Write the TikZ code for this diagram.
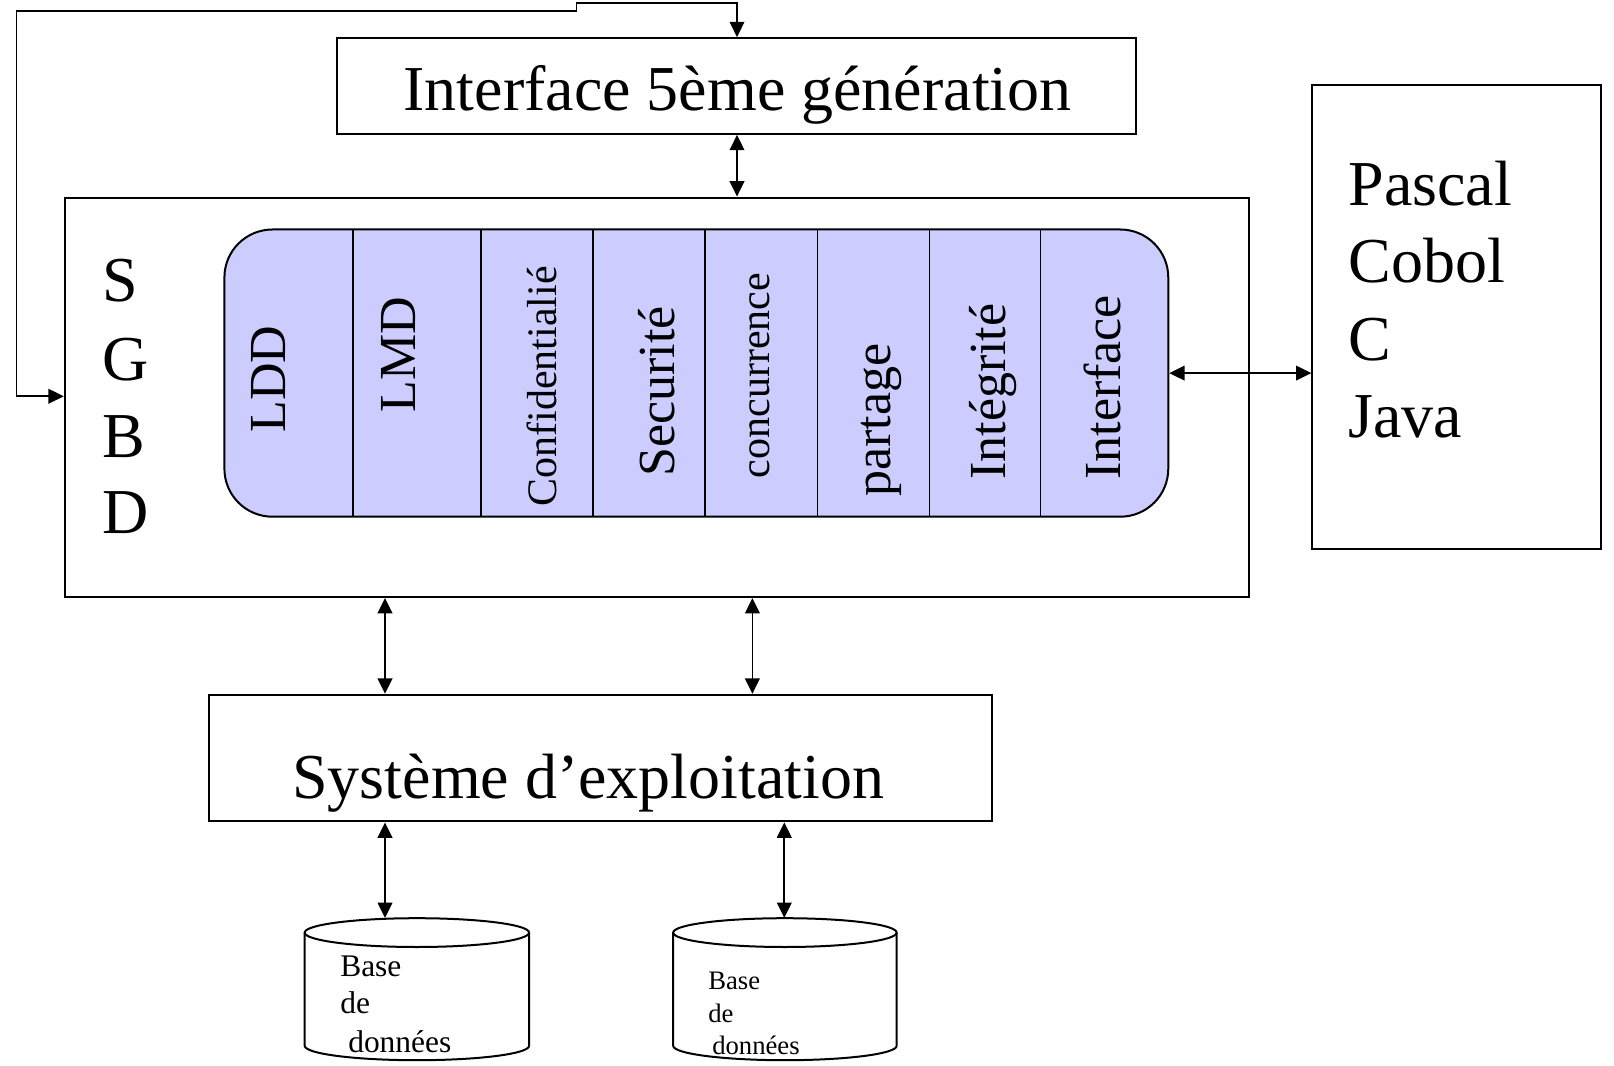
\documentclass[tikz,border=0pt]{standalone}
\usepackage{fontspec}
\setmainfont{Liberation Serif}
\usetikzlibrary{arrows.meta}
\definecolor{corefill}{RGB}{204,204,255}
\begin{document}
\begin{tikzpicture}[x=0.75pt,y=-0.75pt,
  box/.style={draw, line width=1.5pt, inner sep=0, rectangle},
  dbl/.style={line width=1.3pt, {Triangle[length=11.5pt,width=11pt]}-{Triangle[length=11.5pt,width=11pt]}},
  big/.style={font=\fontsize{48}{58}\selectfont, inner sep=0},
  vlab/.style={rotate=90, anchor=base west, inner sep=0, font=\fontsize{39}{47}\selectfont},
  vsmall/.style={rotate=90, anchor=base west, inner sep=0, font=\fontsize{31.5}{38}\selectfont},
  dbA/.style={anchor=base west, inner sep=0, font=\fontsize{23.6}{28}\selectfont},
  dbB/.style={anchor=base west, inner sep=0, font=\fontsize{20}{24}\selectfont},
  divider/.style={line width=1.2pt},
  cyl/.style={line width=1.5pt}
  ]
\useasboundingbox (0,0) rectangle (1614,1066);

% boxes
\node[box, minimum width=599.9pt, minimum height=71.8pt] (i5) at (736.5,86) {};
\node[big, anchor=base] (i5t) at (737.5,111) {Interface 5ème génération};

\node[box, minimum width=887.9pt, minimum height=299.6pt] (sgbd) at (656.7,397.3) {};
\node[draw, line width=1.5pt, fill=corefill, rounded corners=36pt, minimum width=707.9pt, minimum height=215.4pt, inner sep=0] (core) at (696.35,373.1) {};
\foreach \x in {353.1,480.7,592.9,705.1,817.3,929.5,1040.6}
  \draw[divider] (\x,229.5) -- (\x,516.7);

\node[box, minimum width=216.2pt, minimum height=347.4pt] (lang) at (1456.5,317) {};
\node[box, minimum width=587.5pt, minimum height=95pt] (os) at (600.6,758.1) {};
\node[big, anchor=base] (ost) at (588.3,798.8) {Système d’exploitation};

% SGBD letters
\node[big, anchor=base west] (ls) at (102.5,301.6) {S};
\node[big, anchor=base west] (lg) at (102.5,380.8) {G};
\node[big, anchor=base west] (lb) at (102.5,457) {B};
\node[big, anchor=base west] (ld) at (102.5,533.2) {D};

% languages
\node[big, anchor=base west] (lp) at (1348.4,205.9) {Pascal};
\node[big, anchor=base west] (lc) at (1348.4,283) {Cobol};
\node[big, anchor=base west] (lcc) at (1348.4,360.3) {C};
\node[big, anchor=base west] (lj) at (1348.4,437.5) {Java};

% rotated labels
\node[vlab] (t1) at (285,433) {LDD};
\node[vlab] (t2) at (415.8,413) {LMD};
\node[vsmall] (t3) at (556,506.7) {Confidentialié};
\node[vlab] (t4) at (674,476.7) {Securité};
\node[vsmall] (t5) at (769.7,478.3) {concurrence};
\node[vlab] (t6) at (890.9,496.7) {partage};
\node[vlab] (t7) at (1005.7,480) {Intégrité};
\node[vlab] (t8) at (1120.5,480) {Interface};

% databases
\node[minimum width=168.3pt, minimum height=106.5pt, inner sep=0] (db1) at (416.9,989.2) {};
\node[minimum width=167.6pt, minimum height=106.5pt, inner sep=0] (db2) at (784.9,989.2) {};
\draw[cyl] (416.9,932.6) ellipse [x radius=84.15pt, y radius=10.8pt];
\draw[cyl] (304.7,932.6) -- (304.7,1045.8) arc[start angle=180, end angle=360, x radius=84.15pt, y radius=10.8pt] -- (529.1,932.6);
\draw[cyl] (784.9,932.6) ellipse [x radius=83.8pt, y radius=10.8pt];
\draw[cyl] (673.2,932.6) -- (673.2,1045.8) arc[start angle=180, end angle=360, x radius=83.8pt, y radius=10.8pt] -- (896.6,932.6);
\node[dbA] (b1a) at (340,976.5) {Base};
\node[dbA] (b1b) at (340,1013.5) {de};
\node[dbA] (b1c) at (348,1052) {données};
\node[dbB] (b2a) at (708,989.5) {Base};
\node[dbB] (b2b) at (708,1022) {de};
\node[dbB] (b2c) at (712,1054) {données};

% connectors
\coordinate (xa) at (385,0);
\coordinate (xb) at (752.4,0);
\coordinate (xc) at (784.3,0);
\coordinate (xd) at (737,0);
\draw[dbl] (i5.south -| xd) -- (sgbd.north -| xd);
\draw[dbl] (sgbd.south -| xa) -- (os.north -| xa);
\draw[dbl] (sgbd.south -| xb) -- (os.north -| xb);
\draw[dbl] (os.south -| xa) -- (db1.north -| xa);
\draw[dbl] (os.south -| xc) -- (db2.north -| xc);
\draw[dbl] (core.east) -- (core.east -| lang.west);

\coordinate (fbL) at (16.5,396.3);
\coordinate (fbT) at (16.5,11);
\coordinate (fbM) at (576.4,11);
\coordinate (fbM2) at (576.4,3);
\draw[dbl] (sgbd.west |- fbL) -- (fbL) -- (fbT) -- (fbM) -- (fbM2) -| (i5.north -| xd);
\end{tikzpicture}
\end{document}
